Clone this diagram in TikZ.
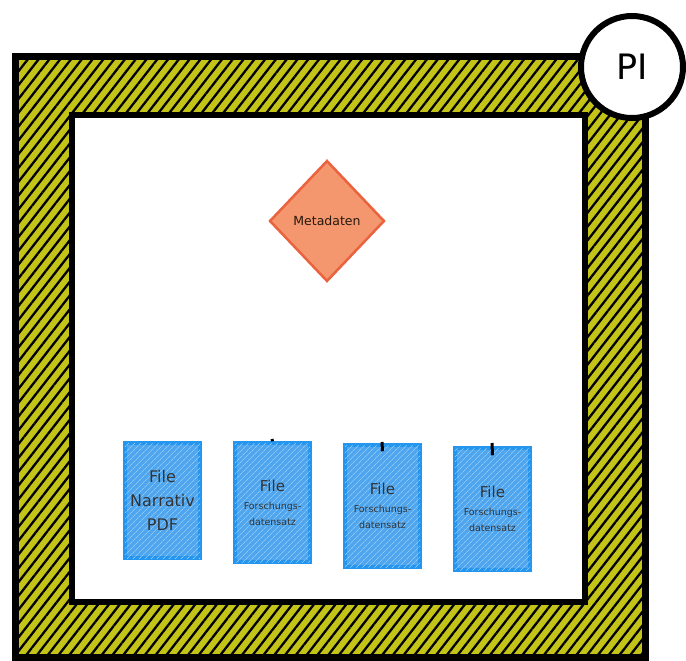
\documentclass[tikz,border=0pt]{standalone}
\usepackage{fontspec}
\setmainfont{DejaVu Sans}
\usetikzlibrary{shapes.geometric,patterns.meta,positioning}

\definecolor{frameyellow}{RGB}{196,196,24}
\definecolor{fileblue}{RGB}{80,166,238}
\definecolor{filehatch}{RGB}{140,200,246}
\definecolor{fileedge}{RGB}{36,150,240}
\definecolor{metafill}{RGB}{244,150,110}
\definecolor{metaedge}{RGB}{234,98,62}

\newcommand{\filebig}{\fontsize{15}{19}\selectfont}
\newcommand{\filesmall}{\fontsize{9.5}{11}\selectfont}

\tikzset{
  file/.style={rectangle, draw=fileedge, line width=3.5pt, fill=fileblue,
    postaction={pattern={Lines[angle=45,distance=4pt,line width=0.7pt]}, pattern color=filehatch},
    minimum width=75pt, inner sep=0pt, align=center, text=black!80},
  meta/.style={diamond, draw=metaedge, line width=2.5pt, fill=metafill,
    minimum width=115pt, minimum height=121pt, inner sep=0pt, text=black!80!brown},
  stub/.style={line width=3pt, black}
}

\begin{document}
\begin{tikzpicture}[x=1pt, y=-1pt, node distance=110pt]
    \useasboundingbox (0,0) rectangle (686,661);

    % frame: hatched band between outer and inner box
    \fill[frameyellow, even odd rule] (15,57) rectangle (645,657) (72,115) rectangle (585,602);
    \fill[pattern={Lines[angle=52,distance=8.5pt,line width=2.3pt]}, pattern color=black, even odd rule]
        (15,57) rectangle (645,657) (72,115) rectangle (585,602);
    \draw[line width=7pt] (15,57) rectangle (645,657);
    \draw[line width=6.5pt] (72,115) rectangle (585,602);

    % PI
    \node [circle, draw, line width=6pt, fill=white, minimum size=102pt,
           font=\fontsize{35}{38}\selectfont] (pi) at (632,67) {PI};

    % metadata
    \node [meta, font=\fontsize{12.5}{14}\selectfont] (meta) at (327,221) {Metadaten};

    % files
    \node [file, minimum height=115pt, font=\fontsize{16}{24}\selectfont] (f1) at (162.5,500.5)
        {File\\Narrativ\\PDF};
    \node [file, minimum height=119pt, right of=f1, yshift=-2pt] (f2)
        {\filebig File\\[6pt]\filesmall Forschungs-\\[4pt]\filesmall datensatz};
    \node [file, minimum height=122pt, right of=f2, yshift=-3.5pt] (f3)
        {\filebig File\\[6pt]\filesmall Forschungs-\\[4pt]\filesmall datensatz};
    \node [file, minimum height=122pt, right of=f3, yshift=-3pt] (f4)
        {\filebig File\\[6pt]\filesmall Forschungs-\\[4pt]\filesmall datensatz};

    % short stubs on top of the files
    \coordinate (c2) at (272,439);
    \coordinate (c3) at (382,442);
    \coordinate (c4) at (492,443);
    \draw[stub] (c2) -- (f2.north);
    \draw[stub] (c3) -- ([yshift=-8pt]f3.north);
    \draw[stub] (c4) -- ([yshift=-9pt]f4.north);
\end{tikzpicture}
\end{document}
